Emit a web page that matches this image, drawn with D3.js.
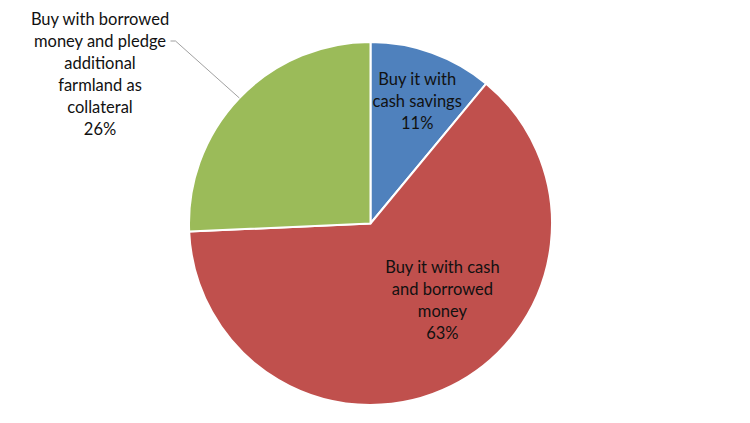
<!DOCTYPE html>
<html>
<head>
<meta charset="utf-8">
<script src="https://cdn.jsdelivr.net/npm/d3@7"></script>
<style>
  body { margin: 0; background: #fff; }
  svg { display: block; }
</style>
</head>
<body>
<svg width="750" height="423"></svg>
<script>
const labels = [
  ['Buy it with', 'cash savings'],
  ['Buy it with cash', 'and borrowed', 'money'],
  ['Buy with borrowed', 'money and pledge', 'additional', 'farmland as', 'collateral']
];
const values = [11.0, 63.3, 25.7];
const colors = ['#4F81BD', '#C0504D', '#9BBB59'];

const data = values.map((v, i) => ({ lines: labels[i], value: v, color: colors[i] }));

const width = 750, height = 423;
const cx = 370.5, cy = 223.5, radius = 181.5;
const lineH = 22;

const svg = d3.select('svg');
const g = svg.append('g')
  .attr('transform', 'translate(' + cx + ',' + cy + ')');

const pie = d3.pie()
  .sort(null)
  .value(d => d.value);
const arcs = pie(data);
const total = d3.sum(values);

const arc = d3.arc()
  .innerRadius(0)
  .outerRadius(radius);

g.selectAll('path.slice')
  .data(arcs)
  .enter()
  .append('path')
  .attr('class', 'slice')
  .attr('d', arc)
  .attr('fill', d => d.data.color)
  .attr('stroke', '#fff')
  .attr('stroke-width', 2)
  .attr('stroke-linejoin', 'round');

// label placement, roughly like excel's "best fit"
// inside: [radius factor, angle shift in radians]; outside: center of text block relative to pie center
const labelPlace = [
  { inside: true, r: 0.72, shift: 0.02 },
  { inside: true, r: 0.58, shift: -0.29 },
  { inside: false, x: -270.5, y: -149.5 }
];

const fmt = d => Math.round(d.data.value / total * 100) + '%';

arcs.forEach((d, i) => {
  const p = labelPlace[i];
  const lines = d.data.lines.concat([fmt(d)]);
  let x, y;
  if (p.inside) {
    const a = (d.startAngle + d.endAngle) / 2 + p.shift;
    x = Math.sin(a) * radius * p.r;
    y = -Math.cos(a) * radius * p.r;
  } else {
    x = p.x;
    y = p.y;
    // leader line from text to the outer edge of the slice
    const a = (d.startAngle + d.endAngle) / 2;
    const ex = Math.sin(a) * radius, ey = -Math.cos(a) * radius;
    const ty = y - (lines.length - 1) / 2 * lineH + lineH;
    g.append('polyline')
      .attr('points', [[-200, ty], [-195, ty], [ex, ey]].map(q => q.join(',')).join(' '))
      .attr('fill', 'none')
      .attr('stroke', '#888')
      .attr('stroke-width', 0.8);
  }
  const t = g.append('text')
    .attr('text-anchor', 'middle')
    .attr('font-family', 'Lato, "Open Sans", sans-serif')
    .attr('font-size', '16.5px')
    .attr('fill', '#111');
  const y0 = y - (lines.length - 1) / 2 * lineH;
  lines.forEach((s, j) => {
    t.append('tspan')
      .attr('x', x)
      .attr('y', y0 + j * lineH)
      .attr('dy', '0.35em')
      .text(s);
  });
});
</script>
</body>
</html>
